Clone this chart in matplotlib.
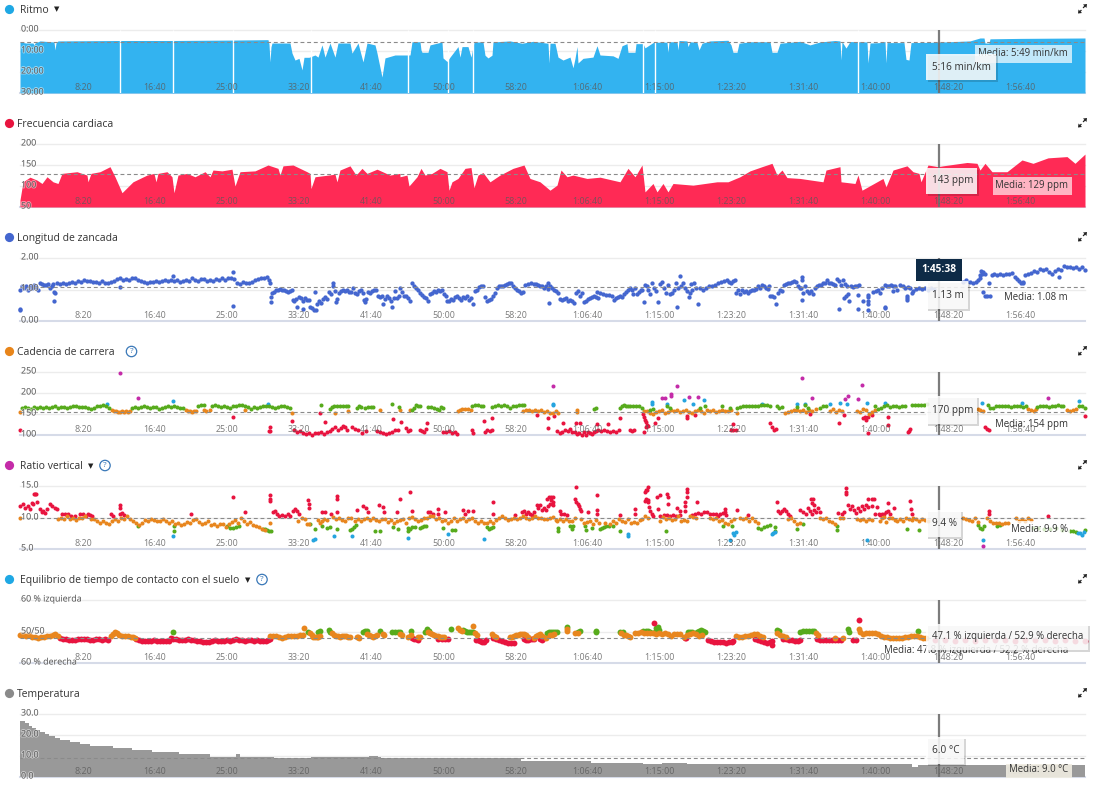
import matplotlib
matplotlib.use("Agg")
import matplotlib.pyplot as plt
import matplotlib.patheffects as pe
from matplotlib.patches import Circle, Polygon, Rectangle

plt.rcParams["font.family"] = ["Open Sans", "DejaVu Sans"]

# the activity is indexed by sample, one sample every 6.897 s
SAMPLE_SECONDS = 6.897
CURSOR_SECONDS = 6338
N_SAMPLES = 1065

time_labels = ["8:20", "16:40", "25:00", "33:20", "41:40", "50:00", "58:20", "1:06:40",
               "1:15:00", "1:23:20", "1:31:40", "1:40:00", "1:48:20", "1:56:40"]

# pace in min/km (decimal)
pace_points = [
    (0, 5.7), (6, 6.2), (13, 6.2), (14, 7.1), (15, 6.2), (20, 5.2), (34, 5.7), (35, 9.5), (36, 6.2),
    (38, 5.2), (99, 5.0), (152, 5.0), (212, 4.8), (248, 4.6), (249, 6.7), (250, 15.2), (251, 8.0),
    (252, 6.2), (270, 6.2), (272, 11.0), (275, 14.3), (279, 13.5), (282, 19.0), (284, 13.0),
    (289, 13.0), (295, 11.9), (298, 12.9), (302, 7.1), (305, 12.9), (310, 6.2), (315, 12.9),
    (318, 6.2), (330, 6.2), (332, 11.0), (338, 6.2), (343, 15.2), (347, 6.2), (355, 7.1), (357, 11.0),
    (362, 22.4), (365, 13.3), (375, 11.9), (380, 11.9), (390, 11.9), (392, 5.6), (400, 5.6),
    (401, 9.5), (402, 10.6), (408, 10.6), (410, 7.1), (422, 5.7), (423, 13.3), (427, 15.0),
    (430, 12.9), (438, 7.9), (440, 12.9), (442, 7.9), (448, 7.9), (451, 12.9), (454, 5.7), (463, 5.7),
    (465, 12.0), (468, 13.3), (472, 12.0), (473, 5.7), (490, 5.2), (502, 6.3), (513, 5.4), (528, 6.3),
    (529, 15.7), (530, 6.3), (535, 6.3), (538, 12.9), (543, 14.3), (550, 12.9), (553, 18.0), (555, 13.5),
    (557, 7.9), (558, 15.7), (563, 13.5), (573, 12.9), (577, 7.5), (580, 11.9), (593, 12.3), (598, 13.5),
    (602, 7.5), (607, 6.5), (608, 10.6), (615, 10.6), (616, 6.5), (623, 6.5), (625, 8.5), (633, 6.0),
    (637, 5.8), (647, 5.8), (648, 10.6), (649, 5.6), (657, 5.6), (658, 9.5), (659, 5.0), (667, 5.2),
    (668, 7.9), (670, 5.6), (677, 5.9), (679, 9.5), (682, 6.3), (690, 5.2), (708, 4.9), (711, 7.1),
    (713, 10.6), (717, 10.6), (719, 6.3), (730, 5.6), (750, 5.6), (752, 10.6), (757, 10.6), (760, 6.3),
    (780, 5.4), (790, 7.1), (800, 5.7), (815, 5.0), (820, 5.2), (821, 14.3), (822, 5.5), (826, 8.6),
    (830, 5.5), (847, 5.7), (848, 15.7), (850, 6.2), (860, 6.0), (865, 5.5), (866, 15.7), (867, 6.0),
    (884, 6.0), (886, 14.0), (889, 14.3), (891, 6.0), (918, 5.8), (950, 5.2), (960, 3.8), (964, 3.8),
    (965, 6.2), (969, 6.2), (970, 4.2), (1000, 4.0), (1065, 3.8),
]
pace_gaps = [100, 153, 213, 291, 388, 428, 453, 623, 635, 838]

# heart rate in bpm
heart_rate_points = [
    (0, 67), (3, 110), (10, 121), (17, 114), (22, 106), (27, 122), (33, 110), (38, 106), (42, 130),
    (57, 134), (67, 126), (68, 110), (71, 130), (80, 134), (90, 146), (95, 122), (102, 84), (113, 110),
    (127, 126), (134, 130), (136, 110), (138, 130), (147, 134), (152, 122), (154, 84), (158, 126),
    (167, 130), (175, 122), (185, 134), (190, 122), (193, 138), (202, 136), (212, 140), (215, 100),
    (220, 134), (235, 136), (248, 150), (258, 142), (260, 126), (263, 148), (273, 150), (287, 134),
    (290, 130), (291, 94), (295, 122), (315, 128), (317, 110), (320, 138), (330, 148), (336, 126),
    (342, 142), (347, 130), (357, 140), (370, 126), (380, 130), (380, 122), (387, 126), (389, 100),
    (397, 122), (401, 142), (405, 126), (412, 130), (420, 142), (427, 134), (429, 90), (432, 110),
    (438, 118), (445, 142), (451, 144), (454, 96), (458, 126), (463, 132), (470, 110), (480, 126),
    (493, 142), (504, 150), (510, 118), (520, 110), (530, 90), (537, 102), (541, 138), (547, 122),
    (553, 126), (567, 118), (580, 121), (600, 110), (608, 142), (615, 122), (622, 150), (625, 86),
    (633, 106), (637, 86), (643, 106), (648, 86), (653, 106), (673, 102), (697, 110), (708, 110),
    (720, 122), (730, 136), (742, 146), (752, 154), (757, 126), (762, 138), (767, 120), (780, 118),
    (803, 110), (806, 138), (820, 146), (821, 110), (835, 106), (838, 126), (842, 90), (863, 118),
    (866, 98), (873, 138), (887, 148), (893, 134), (899, 130), (901, 110), (908, 150), (918, 146),
    (923, 148), (947, 156), (957, 154), (960, 138), (965, 154), (972, 134), (987, 134), (1002, 162),
    (1013, 154), (1028, 167), (1047, 170), (1055, 154), (1065, 176),
]

stride_points = [
    (0, 1.0), (0, 0.34), (0, 0.39), (2, 1.1), (4, 1.05), (6, 1.12), (8, 1.0), (10, 1.1), (12, 1.05),
    (14, 1.15), (16, 1.08), (18, 0.98), (20, 1.2), (22, 1.17), (24, 1.15), (26, 1.13), (28, 1.16),
    (30, 1.05), (32, 1.1), (33, 1.18), (34, 0.92), (34, 0.65), (35, 0.88),
    (37, 1.2), (40, 1.16), (43, 1.2), (46, 1.17), (49, 1.22), (52, 1.25), (55, 1.22), (58, 1.28),
    (61, 1.24), (64, 1.3), (67, 1.28), (70, 1.26), (73, 1.24), (76, 1.25), (79, 1.2), (82, 1.28),
    (85, 1.22), (88, 1.2), (91, 1.24), (94, 1.28), (97, 1.34), (100, 1.37), (100, 1.08), (103, 1.3),
    (106, 1.33), (109, 1.3), (112, 1.36), (115, 1.37), (118, 1.3), (121, 1.27), (124, 1.25), (127, 1.2),
    (130, 1.24), (133, 1.25), (136, 1.27), (139, 1.25), (142, 1.28), (145, 1.3), (148, 1.28), (151, 1.3),
    (153, 1.42), (154, 1.28), (157, 1.3), (160, 1.25), (163, 1.27), (166, 1.3), (169, 1.28), (172, 1.36),
    (175, 1.3), (178, 1.28), (181, 1.34), (184, 1.33), (187, 1.28), (190, 1.3), (193, 1.28), (196, 1.32),
    (199, 1.3), (202, 1.35), (205, 1.3), (208, 1.36), (211, 1.37), (213, 1.57), (213, 0.48), (214, 1.32),
    (217, 1.2), (220, 1.18), (223, 1.24), (226, 1.2), (229, 1.22), (232, 1.25), (235, 1.3), (238, 1.33),
    (241, 1.37), (244, 1.38), (247, 1.4),
    (249, 1.3), (250, 1.2), (251, 0.77), (251, 0.6), (252, 0.88), (254, 0.93), (256, 0.98), (258, 1.0),
    (260, 1.03), (262, 1.0), (264, 0.98), (266, 0.96), (268, 0.93), (270, 0.95), (272, 1.0), (273, 0.67),
    (274, 0.62), (276, 0.7), (277, 0.43), (279, 0.76), (281, 0.72), (283, 0.37), (283, 0.65), (285, 0.73),
    (287, 0.68), (289, 0.66), (290, 0.45), (292, 0.42), (294, 0.35), (295, 0.93), (296, 0.35), (297, 0.55),
    (299, 0.65), (301, 0.58), (303, 0.7), (305, 0.76), (307, 0.7), (309, 0.93), (311, 0.85), (313, 1.2),
    (313, 1.1), (315, 0.95), (316, 0.6), (317, 0.7), (319, 0.88), (321, 0.96), (323, 0.98), (325, 0.95),
    (327, 0.97), (329, 0.92), (331, 0.93), (333, 1.05), (335, 0.9), (337, 0.85), (339, 0.95), (341, 0.98),
    (343, 0.88), (344, 0.68), (345, 0.6), (346, 0.7), (348, 0.92), (350, 0.88), (352, 0.95), (354, 1.0),
    (356, 0.98), (358, 0.8), (360, 0.75), (362, 0.78), (363, 0.55), (365, 0.7), (367, 0.78), (369, 0.72),
    (371, 0.65), (372, 0.45), (374, 0.72), (375, 0.95), (377, 0.73), (379, 0.78),
    (380, 1.05), (382, 0.93), (384, 0.78), (386, 0.8), (388, 0.72), (390, 0.62), (392, 1.2), (394, 1.12),
    (396, 1.05), (398, 0.98), (400, 0.9), (402, 0.82), (404, 0.75), (406, 0.72), (408, 0.62), (410, 0.85),
    (412, 0.9), (414, 0.95), (416, 0.92), (418, 1.0), (420, 0.95), (422, 0.97), (424, 0.85), (426, 0.8),
    (427, 0.62), (429, 0.65), (431, 0.7), (433, 0.68), (435, 0.75), (437, 0.8), (439, 0.72), (441, 0.68),
    (443, 0.75), (445, 0.72), (447, 0.78), (449, 0.68), (451, 0.73), (453, 0.55), (455, 0.95), (457, 1.0),
    (459, 1.08), (461, 1.1), (463, 1.1), (465, 0.75), (467, 0.65), (469, 0.66), (471, 0.7), (473, 0.78),
    (475, 0.9), (477, 1.05), (479, 1.1), (481, 1.12), (483, 1.1), (485, 1.15), (487, 1.18), (489, 1.22),
    (491, 1.2), (493, 1.1), (495, 1.05), (497, 0.98), (499, 0.95), (501, 0.9), (503, 0.92), (505, 1.15),
    (508, 1.18), (511, 1.2), (514, 1.16), (516, 1.16), (518, 1.15), (520, 1.1), (522, 1.12), (524, 1.05),
    (526, 1.1), (528, 1.02), (528, 1.2), (529, 0.58), (530, 1.1), (532, 1.05), (534, 0.98), (536, 0.95),
    (538, 0.88), (540, 0.7), (542, 0.66), (544, 0.7), (546, 0.72), (548, 0.62), (550, 0.68), (552, 0.62),
    (554, 0.58), (556, 0.9), (558, 0.95), (560, 0.78), (562, 0.9), (564, 0.6), (566, 0.62), (568, 0.7),
    (570, 0.72), (572, 0.75), (574, 0.8), (576, 0.75), (577, 0.93), (578, 0.72), (580, 0.88), (583, 0.85),
    (586, 0.82), (589, 0.82), (592, 0.8), (594, 0.68), (596, 0.72), (598, 0.75), (600, 0.8), (602, 0.75),
    (604, 0.85), (606, 0.92), (608, 0.97), (610, 1.05), (612, 0.98), (613, 0.85), (615, 1.05), (617, 0.85),
    (619, 0.93), (621, 1.0), (622, 0.98), (624, 0.6), (625, 1.15), (627, 1.1), (628, 0.98), (630, 0.85),
    (632, 1.2), (634, 1.05), (636, 0.95), (638, 0.6), (640, 1.18), (642, 1.25), (644, 1.05), (646, 0.9),
    (648, 1.15), (650, 0.85), (652, 0.9), (654, 0.98), (656, 1.22), (657, 0.44), (658, 1.05), (660, 1.44),
    (661, 1.1), (663, 1.2), (665, 1.05), (667, 0.95), (669, 0.75), (670, 0.88), (671, 1.18), (672, 0.98),
    (674, 1.2), (676, 1.05), (678, 0.54), (680, 1.05), (683, 0.98), (686, 1.05), (689, 1.1), (692, 1.12),
    (695, 1.15), (698, 1.2), (701, 1.25), (704, 1.28), (707, 1.3), (709, 1.25), (711, 1.22), (713, 1.28),
    (715, 1.3), (716, 0.9), (718, 1.0), (720, 0.85), (722, 0.98), (724, 0.92), (726, 0.95), (728, 0.9),
    (730, 0.95), (732, 1.0), (734, 0.97), (736, 1.02), (738, 1.12), (740, 1.05), (742, 1.15), (744, 1.1),
    (746, 1.05), (748, 1.02), (749, 1.12), (750, 0.78), (752, 0.8), (754, 0.75), (756, 0.55), (758, 0.9),
    (760, 1.0), (762, 0.95), (764, 1.15), (766, 1.18), (768, 1.2), (770, 1.2), (772, 1.25), (774, 1.28),
    (776, 1.25), (778, 1.1), (780, 1.05), (781, 1.05), (782, 1.4), (782, 1.3), (782, 0.67), (783, 0.9),
    (785, 1.1), (787, 0.95), (789, 0.9), (791, 0.95), (793, 0.85), (795, 1.05), (797, 1.1), (799, 1.15),
    (801, 1.15), (803, 1.2), (805, 1.22), (807, 1.3), (809, 1.22), (811, 1.2), (813, 1.18), (815, 1.15),
    (817, 1.32), (819, 1.28), (819, 0.37), (821, 1.15), (823, 1.3), (824, 0.72), (825, 1.18), (826, 0.78),
    (827, 1.1), (828, 0.85), (829, 0.65), (831, 1.1), (833, 1.08), (835, 1.1), (837, 1.12), (838, 0.83),
    (838, 0.37), (839, 1.15), (843, 0.65), (848, 0.83), (848, 0.75), (848, 0.65), (848, 0.53), (848, 0.35),
    (853, 0.92), (856, 0.95), (858, 0.98), (860, 0.9), (862, 1.05), (865, 1.15), (865, 0.45), (865, 0.4),
    (867, 1.1), (869, 1.1), (871, 1.15), (873, 1.1), (873, 0.95), (875, 1.12), (877, 1.0), (880, 1.13),
    (883, 1.1), (885, 1.05), (887, 0.67), (887, 0.72), (887, 0.8), (888, 1.07), (890, 1.05), (892, 0.9),
    (893, 0.95), (896, 1.02), (899, 1.05), (902, 1.03), (905, 1.05), (908, 1.0), (911, 1.05), (914, 1.02),
    (943, 1.25), (946, 1.3), (950, 1.25), (953, 1.22), (956, 1.25), (958, 1.3), (960, 1.45), (961, 1.6),
    (960, 1.37), (962, 1.5), (963, 1.55), (963, 0.93), (965, 1.48), (965, 0.8), (967, 0.8), (969, 1.2),
    (970, 0.8), (972, 1.45), (974, 1.5), (977, 1.47), (980, 1.5), (983, 1.46), (986, 1.48), (989, 1.5),
    (992, 1.53), (995, 1.4), (997, 1.32), (999, 1.28), (1001, 1.22), (1003, 1.25), (1003, 1.2), (1005, 1.45),
    (1008, 1.5), (1011, 1.52), (1014, 1.6), (1017, 1.55), (1020, 1.66), (1023, 1.62), (1026, 1.65),
    (1029, 1.55), (1032, 1.5), (1035, 1.6), (1038, 1.65), (1039, 1.4), (1041, 1.62), (1044, 1.75), (1047, 1.7),
    (1050, 1.72), (1053, 1.68), (1056, 1.72), (1059, 1.66), (1062, 1.72), (1065, 1.62),
]

# running dynamics are coloured by zone
cadence_green = [
    (2, 164), (5, 166), (8, 165), (11, 163), (14, 166), (17, 165), (20, 167), (23, 165), (26, 167), (29, 164),
    (32, 166), (35, 168), (38, 165), (41, 167), (44, 166), (47, 164), (50, 166), (53, 170), (56, 168), (59, 167),
    (62, 166), (65, 166), (68, 164), (71, 162), (74, 165), (77, 168), (80, 170), (83, 171), (86, 168), (89, 165),
    (112, 164), (115, 166), (118, 165), (121, 167), (124, 168), (127, 166), (130, 165), (133, 167), (136, 166),
    (139, 163), (142, 165), (145, 166), (148, 169), (151, 167), (154, 170), (157, 167), (160, 165), (163, 164),
    (178, 168), (181, 171), (184, 172), (192, 170), (195, 171), (198, 168), (201, 166), (204, 170), (207, 167),
    (210, 164), (213, 169), (216, 168), (219, 171), (222, 172), (225, 170), (228, 167), (231, 163), (234, 166),
    (237, 164), (240, 167), (243, 170), (246, 168), (249, 170), (252, 167), (255, 165), (258, 167), (261, 168),
    (264, 168), (267, 167), (270, 165), (301, 172), (310, 162), (312, 166), (314, 168), (317, 168), (320, 169),
    (323, 168), (326, 170), (328, 168), (337, 165), (339, 168), (341, 166), (345, 165), (348, 166), (351, 167),
    (353, 167), (372, 173), (379, 166), (392, 160), (394, 165), (396, 172), (398, 169), (400, 168), (408, 166),
    (411, 166), (414, 165), (417, 163), (419, 160), (421, 167), (423, 164), (452, 170), (455, 172), (458, 171),
    (461, 169), (463, 168), (472, 167), (475, 169), (478, 171), (481, 168), (484, 172), (487, 170), (490, 165),
    (493, 168), (496, 170), (499, 171), (502, 172), (504, 172), (574, 163), (576, 165), (600, 165), (602, 170),
    (604, 172), (606, 170), (608, 170), (610, 168), (613, 168), (616, 169), (619, 168), (622, 165), (630, 160),
    (633, 163), (647, 170), (650, 165), (680, 165), (685, 168), (702, 170), (710, 165), (717, 165), (720, 167),
    (723, 169), (726, 168), (729, 170), (732, 168), (735, 169), (738, 170), (741, 171), (744, 172), (747, 171),
    (750, 170), (757, 168), (759, 165), (762, 167), (777, 167), (785, 172), (788, 164), (800, 165), (803, 168),
    (806, 170), (855, 168), (858, 163), (861, 165), (864, 168), (867, 171), (870, 167), (873, 168), (876, 170),
    (879, 167), (882, 170), (885, 170), (892, 171), (895, 171), (898, 172), (901, 171), (904, 172), (907, 173),
    (968, 172), (970, 165), (973, 165), (976, 168), (979, 169), (982, 168), (985, 169), (988, 170), (991, 167),
    (994, 168), (997, 170), (1000, 169), (1003, 167), (1006, 168), (1017, 166), (1020, 168), (1023, 169),
    (1026, 168), (1029, 166), (1032, 168), (1035, 170), (1038, 171), (1041, 168), (1043, 169), (1059, 170),
    (1062, 168), (1065, 165),
]
cadence_orange = [
    (0, 155), (92, 160), (94, 157), (96, 156), (98, 155), (100, 155), (102, 156), (104, 155), (106, 157),
    (108, 155), (110, 156), (166, 160), (168, 157), (170, 156), (172, 155), (174, 157), (176, 157), (184, 160),
    (186, 158), (190, 160), (225, 159), (272, 153), (315, 153), (328, 156), (360, 160), (380, 160), (390, 160),
    (438, 158), (440, 160), (442, 162), (445, 163), (448, 163), (451, 160), (503, 158), (506, 160), (509, 160),
    (512, 157), (515, 159), (518, 156), (521, 160), (524, 155), (527, 157), (530, 153), (533, 153), (536, 158),
    (538, 152), (557, 160), (557, 155), (624, 158), (627, 157), (630, 153), (633, 150), (636, 155), (639, 158),
    (642, 160), (645, 152), (648, 155), (651, 160), (654, 157), (657, 160), (660, 155), (663, 158), (666, 160),
    (669, 155), (672, 153), (675, 158), (678, 160), (681, 158), (684, 153), (687, 160), (690, 158), (693, 160),
    (696, 155), (699, 157), (702, 160), (705, 158), (708, 157), (711, 160), (717, 152), (765, 152), (768, 155),
    (771, 158), (774, 160), (777, 160), (780, 157), (783, 160), (786, 155), (789, 160), (792, 157), (796, 163),
    (810, 157), (813, 162), (816, 155), (819, 160), (822, 158), (837, 158), (840, 155), (843, 162), (846, 160),
    (849, 150), (852, 155), (855, 160), (958, 162), (960, 160), (963, 156), (1008, 162), (1011, 159), (1014, 158),
    (1016, 162), (1047, 160), (1050, 158), (1053, 160), (1056, 161),
]
cadence_red = [
    (0, 112), (213, 142), (250, 120), (250, 110), (249, 110), (272, 133), (274, 112), (277, 106), (280, 110),
    (283, 104), (286, 102), (289, 104), (292, 100), (295, 104), (298, 105), (300, 152), (301, 108), (304, 103),
    (305, 132), (307, 108), (310, 110), (312, 115), (315, 118), (318, 112), (321, 116), (323, 121), (325, 118),
    (327, 112), (332, 118), (335, 115), (338, 112), (342, 104), (346, 110), (357, 110), (360, 108), (363, 104),
    (366, 102), (369, 104), (372, 108), (373, 138), (375, 112), (378, 112), (381, 132), (386, 116), (388, 110),
    (390, 112), (400, 112), (402, 110), (404, 108), (406, 115), (407, 128), (423, 108), (426, 106), (429, 110),
    (432, 105), (435, 108), (437, 102), (452, 112), (453, 104), (464, 133), (465, 108), (467, 112), (470, 110),
    (472, 112), (472, 141), (517, 147), (528, 140), (528, 116), (534, 145), (537, 110), (540, 104), (542, 108),
    (543, 128), (545, 112), (548, 110), (550, 114), (552, 106), (555, 108), (556, 128), (557, 102), (559, 105),
    (560, 128), (562, 101), (564, 108), (566, 100), (568, 106), (570, 105), (572, 102), (574, 108), (576, 110),
    (577, 126), (578, 112), (581, 110), (584, 112), (587, 110), (588, 126), (590, 108), (593, 110), (596, 108),
    (599, 112), (600, 141), (610, 112), (612, 110), (614, 112), (623, 150), (624, 142), (624, 108), (625, 135),
    (626, 130), (626, 118), (627, 125), (628, 122), (635, 128), (638, 140), (667, 145), (667, 141), (675, 148),
    (711, 112), (713, 126), (713, 113), (716, 112), (750, 128), (752, 118), (754, 112), (756, 114), (790, 150),
    (819, 128), (824, 148), (843, 140), (845, 144), (846, 136), (848, 142), (848, 104), (852, 148), (868, 144),
    (868, 124), (888, 108), (889, 110), (890, 115), (965, 120), (967, 115), (969, 112), (1065, 146),
]
cadence_purple = [
    (100, 247), (118, 189), (533, 216), (642, 189), (645, 189), (651, 194), (651, 197), (657, 216), (669, 191),
    (678, 190), (782, 235), (792, 189), (825, 185), (828, 193), (838, 186), (842, 219), (1028, 187),
]
cadence_blue = [
    (87, 173), (153, 181), (248, 175), (533, 175), (533, 171), (632, 179), (632, 175), (647, 175), (664, 183),
    (673, 173), (684, 183), (742, 174), (777, 173), (785, 174), (810, 173), (820, 177), (827, 173), (847, 177),
    (865, 177), (962, 177), (1002, 177), (1059, 182),
]

ratio_red = [
    (0, 11.8), (3, 12.1), (5, 11.5), (8, 11.8), (10, 11.3), (12, 12.3), (13, 12.2), (14, 13.8), (15, 13.8),
    (16, 13.8), (17, 12.4), (20, 11.3), (22, 10.8), (23, 11.0), (25, 10.7), (27, 11.3), (30, 12.1), (32, 11.8),
    (35, 11.5), (37, 11.3), (42, 10.6), (45, 10.5), (48, 10.5), (51, 10.3), (55, 10.3), (60, 10.5), (63, 10.6),
    (66, 10.3), (68, 10.6), (70, 10.4), (72, 10.3), (91, 10.6), (93, 10.3), (100, 10.5), (102, 10.7), (104, 10.4),
    (100, 11.5), (100, 12.0), (171, 10.6), (213, 13.2), (225, 10.8), (250, 13.0), (250, 13.5), (250, 12.6),
    (253, 10.8), (255, 11.0), (257, 10.5), (259, 10.2), (262, 10.4), (265, 10.3), (268, 10.6), (270, 10.3),
    (273, 11.0), (275, 11.3), (277, 11.1), (279, 10.5), (288, 12.7), (289, 12.1), (289, 11.5), (302, 10.8),
    (305, 10.8), (311, 10.5), (317, 13.4), (317, 12.9), (317, 10.8), (337, 11.2), (343, 11.8), (346, 11.5),
    (348, 10.9), (359, 12.0), (363, 11.6), (364, 10.9), (377, 10.8), (380, 12.9), (390, 14.0), (392, 11.0),
    (408, 10.8), (410, 10.8), (413, 10.5), (418, 11.3), (418, 10.6), (425, 10.9), (443, 11.2), (445, 10.5),
    (448, 11.0), (453, 11.1), (473, 12.5), (473, 10.6), (495, 10.4), (502, 10.8), (504, 11.0), (506, 10.5),
    (508, 10.9), (510, 10.6), (512, 10.4), (514, 10.8), (517, 12.0), (518, 11.5), (520, 12.0), (522, 11.2),
    (524, 11.5), (526, 11.2), (527, 13.0), (528, 11.8), (529, 13.2), (530, 12.2), (531, 13.3), (531, 12.8),
    (533, 13.2), (533, 12.4), (533, 12.0), (540, 11.0), (541, 10.5), (544, 10.5), (547, 10.4), (555, 13.0),
    (556, 14.8), (556, 12.5), (558, 12.2), (559, 11.8), (560, 11.4), (561, 11.0), (568, 10.8), (577, 13.6),
    (577, 11.2), (577, 10.6), (600, 10.4), (615, 11.3), (615, 10.5), (625, 14.1), (625, 12.6), (626, 14.3),
    (626, 13.0), (627, 14.4), (628, 14.8), (628, 12.8), (628, 12.4), (629, 11.6), (630, 11.0), (632, 10.5),
    (633, 10.3), (637, 13.3), (638, 11.3), (640, 13.6), (640, 10.3), (644, 10.4), (647, 13.7), (647, 10.4),
    (648, 13.2), (648, 12.1), (650, 10.3), (653, 10.4), (656, 10.3), (657, 11.5), (660, 11.0), (660, 10.4),
    (665, 12.4), (665, 11.9), (665, 11.0), (667, 14.5), (667, 14.0), (667, 13.2), (672, 10.4), (675, 10.5),
    (677, 12.4), (678, 10.7), (681, 10.6), (684, 10.9), (687, 10.8), (690, 10.5), (693, 10.6), (696, 10.5),
    (698, 10.3), (700, 10.6), (703, 10.7), (705, 11.3), (705, 10.9), (706, 10.4), (717, 11.2), (728, 10.4),
    (757, 12.4), (758, 11.1), (760, 10.7), (762, 11.0), (764, 11.3), (766, 11.0), (768, 10.6), (770, 10.3),
    (780, 11.2), (783, 10.9), (786, 10.5), (788, 11.5), (790, 11.0), (791, 13.0), (792, 10.5), (792, 12.3),
    (793, 13.0), (794, 11.2), (794, 12.0), (796, 10.9), (798, 11.5), (800, 10.8), (818, 10.7), (822, 10.6),
    (824, 10.9), (826, 14.7), (826, 14.1), (826, 13.7), (828, 12.0), (830, 11.4), (832, 11.8), (834, 11.2),
    (836, 10.7), (838, 11.5), (840, 11.0), (842, 11.9), (844, 11.3), (846, 12.0), (848, 11.6), (848, 12.9),
    (852, 12.9), (852, 11.8), (854, 13.0), (855, 10.5), (857, 11.7), (859, 10.5), (860, 10.4), (862, 10.6),
    (864, 10.5), (866, 10.8), (868, 11.0), (868, 12.3), (870, 10.5), (874, 11.5), (890, 12.6), (891, 11.3),
    (892, 10.5), (969, 11.1), (969, 10.5), (1028, 10.2),
]
ratio_orange = [
    (0, 9.9), (38, 9.8), (41, 10.0), (44, 9.7), (47, 10.2), (50, 9.8), (53, 10.0), (56, 9.6), (59, 9.9), (62, 10.0),
    (65, 10.3), (71, 9.7), (74, 9.8), (77, 9.5), (80, 9.2), (83, 9.4), (86, 9.1), (89, 9.0), (92, 9.5), (95, 9.8),
    (98, 9.4), (101, 10.0), (104, 9.7), (107, 10.3), (110, 9.8), (113, 9.5), (116, 9.2), (119, 8.8), (122, 9.2),
    (125, 9.6), (128, 9.4), (131, 9.8), (134, 9.6), (137, 9.5), (140, 9.4), (143, 9.7), (146, 9.5), (149, 9.2),
    (152, 9.4), (155, 8.9), (158, 9.1), (161, 8.8), (164, 9.0), (167, 9.3), (170, 9.2), (173, 9.6), (176, 9.8),
    (179, 9.3), (182, 8.9), (185, 9.2), (188, 9.5), (191, 8.8), (194, 9.0), (197, 8.6), (200, 8.9), (203, 9.0),
    (206, 8.5), (209, 8.9), (212, 9.3), (215, 9.6), (218, 9.2), (221, 9.9), (224, 9.5), (227, 9.0), (230, 9.3),
    (233, 8.8), (236, 8.6), (239, 8.5), (242, 8.2), (245, 8.0), (250, 9.1), (278, 9.4), (282, 9.9), (285, 9.8),
    (287, 8.9), (289, 9.0), (298, 9.6), (300, 9.1), (302, 9.4), (304, 9.8), (307, 9.6), (313, 10.1), (316, 9.8),
    (319, 10.0), (322, 9.6), (325, 9.5), (328, 9.9), (331, 10.0), (335, 9.4), (338, 9.7), (341, 9.4), (344, 9.8),
    (347, 9.9), (350, 9.6), (353, 9.9), (356, 9.6), (359, 9.4), (362, 9.7), (365, 9.8), (368, 9.3), (371, 9.6),
    (374, 9.2), (377, 9.5), (380, 9.6), (383, 9.7), (386, 9.2), (389, 9.9), (392, 10.1), (395, 9.7), (398, 9.5),
    (401, 9.6), (404, 10.0), (407, 9.9), (410, 10.2), (413, 10.3), (416, 9.8), (419, 10.0), (422, 9.5), (425, 9.6),
    (428, 9.2), (431, 9.5), (434, 9.9), (437, 9.4), (440, 9.7), (443, 9.9), (446, 9.4), (449, 9.7), (452, 9.9),
    (455, 9.5), (458, 9.2), (461, 9.5), (464, 9.2), (467, 9.1), (470, 9.4), (473, 9.2), (476, 9.6), (479, 10.0),
    (482, 10.2), (485, 9.9), (488, 9.6), (491, 9.8), (494, 10.0), (497, 9.7), (500, 10.0), (503, 10.3), (506, 10.0),
    (509, 9.8), (512, 10.0), (515, 10.2), (518, 9.9), (521, 10.0), (524, 9.8), (527, 9.7), (530, 9.9), (533, 10.1),
    (536, 9.6), (537, 9.5), (540, 9.7), (543, 9.5), (546, 9.7), (549, 9.4), (552, 9.5), (555, 9.9), (561, 9.8),
    (564, 9.1), (567, 9.3), (570, 9.4), (573, 9.0), (576, 9.6), (579, 9.2), (585, 9.1), (590, 9.0), (593, 9.5),
    (596, 9.2), (599, 9.7), (602, 9.5), (605, 9.3), (608, 9.7), (611, 9.2), (614, 9.3), (617, 9.1), (620, 9.6),
    (622, 9.8), (625, 10.2), (628, 10.0), (640, 9.5), (643, 10.1), (646, 9.8), (649, 9.9), (652, 9.6), (655, 9.7),
    (658, 10.2), (661, 9.4), (664, 9.6), (667, 9.4), (670, 10.2), (673, 10.1), (676, 10.0), (690, 9.9), (693, 9.7),
    (696, 10.0), (699, 9.4), (702, 9.6), (705, 9.2), (708, 9.0), (711, 9.4), (714, 9.8), (720, 10.0), (723, 9.7),
    (726, 9.9), (729, 9.5), (732, 9.9), (735, 9.5), (738, 9.2), (768, 9.7), (771, 9.9), (774, 9.5), (777, 9.0),
    (780, 9.1), (800, 9.9), (803, 9.7), (806, 10.0), (809, 9.4), (812, 9.3), (815, 9.0), (820, 10.0), (823, 9.9),
    (837, 9.8), (840, 9.6), (843, 9.7), (846, 9.5), (849, 9.7), (852, 9.6), (860, 9.4), (862, 9.9), (864, 10.1),
    (866, 9.3), (869, 9.9), (872, 9.9), (875, 9.6), (877, 9.4), (880, 9.7), (883, 9.4), (886, 9.9), (889, 9.8),
    (892, 9.6), (893, 9.9), (896, 9.7), (899, 9.5), (902, 9.8), (905, 9.6), (908, 9.4), (943, 10.0), (946, 9.7),
    (949, 9.6), (952, 9.5), (955, 9.9), (958, 9.3), (967, 10.0), (970, 9.5), (973, 9.2), (976, 9.1), (979, 9.1),
    (982, 8.9), (985, 9.1), (988, 9.2), (996, 9.9), (999, 9.5), (1002, 9.7), (1005, 9.4), (1008, 9.9), (1011, 9.6),
]
ratio_green = [
    (118, 8.7), (154, 7.8), (154, 8.6), (207, 8.6), (210, 8.3), (213, 8.4), (216, 8.5), (219, 8.6), (243, 8.2),
    (245, 8.1), (247, 8.0), (249, 7.9), (251, 7.8), (290, 8.9), (295, 8.1), (302, 8.6), (307, 8.4), (310, 8.5),
    (317, 8.1), (330, 8.0), (332, 8.2), (334, 8.5), (336, 8.8), (355, 7.9), (360, 7.9), (373, 8.5), (378, 8.1),
    (388, 8.4), (388, 7.9), (390, 8.2), (392, 8.5), (395, 8.5), (400, 8.3), (402, 8.5), (404, 8.7), (406, 8.7),
    (423, 8.4), (432, 8.0), (435, 8.0), (467, 8.5), (469, 8.1), (471, 8.4), (473, 8.5), (538, 8.4), (538, 7.9),
    (550, 8.6), (552, 8.2), (553, 8.6), (565, 8.6), (566, 8.0), (572, 8.4), (580, 8.2), (582, 8.3), (584, 8.5),
    (586, 8.6), (589, 8.7), (593, 8.6), (600, 7.8), (646, 7.8), (703, 8.7), (712, 8.7), (738, 8.3), (741, 8.2),
    (744, 8.5), (747, 8.6), (750, 8.8), (755, 8.5), (755, 7.9), (777, 8.2), (783, 8.9), (817, 8.7), (817, 8.0),
    (887, 8.2), (899, 8.0), (958, 8.8), (960, 8.4), (962, 8.2), (964, 8.7), (977, 8.7), (980, 8.8), (1013, 8.4),
    (1018, 8.3), (1024, 8.1), (1030, 8.2), (1036, 8.3), (1042, 8.0), (1050, 7.9), (1053, 7.8), (1056, 7.7), (1065, 8.0),
]
ratio_blue = [
    (153, 7.0), (293, 6.5), (295, 6.6), (314, 7.0), (332, 7.1), (388, 6.7), (428, 7.4), (464, 6.6), (608, 7.4),
    (608, 7.0), (710, 6.5), (713, 7.6), (714, 7.2), (716, 7.7), (752, 7.4), (753, 7.5), (755, 7.7), (847, 6.5),
    (963, 6.4), (1058, 7.6), (1060, 7.5), (1062, 7.3), (1064, 7.7),
]
ratio_purple = [(963, 5.4)]

# ground contact balance as % on the left foot
balance_orange = [
    (0, 49.0), (3, 48.8), (6, 48.6), (9, 49.0), (12, 48.4), (15, 48.3), (18, 48.0), (21, 48.3), (24, 48.2), (27, 48.5),
    (30, 48.6), (33, 48.8), (35, 49.2), (38, 48.7), (91, 48.6), (93, 49.2), (95, 49.8), (97, 49.6), (99, 49.0),
    (102, 48.6), (105, 48.5), (108, 48.6), (111, 48.4), (113, 48.3), (115, 48.0), (250, 48.7), (253, 48.5), (256, 48.5),
    (259, 48.3), (262, 48.0), (265, 48.4), (268, 48.5), (271, 48.7), (274, 48.6), (277, 48.5), (280, 48.9), (283, 49.0),
    (284, 51.2), (290, 49.6), (292, 49.0), (293, 48.4), (295, 48.1), (297, 48.2), (298, 48.4), (300, 48.7), (312, 49.5),
    (314, 49.0), (316, 48.6), (318, 48.5), (320, 48.4), (322, 48.5), (324, 48.7), (326, 48.5), (328, 48.4), (330, 48.2),
    (337, 48.4), (338, 48.2), (339, 48.0), (347, 49.3), (349, 49.0), (351, 48.7), (353, 48.3), (355, 48.5), (357, 48.9),
    (363, 49.2), (364, 49.0), (380, 49.3), (382, 49.0), (388, 48.3), (391, 48.9), (398, 48.1), (400, 48.3), (408, 50.0),
    (410, 49.6), (412, 49.2), (414, 49.0), (416, 48.6), (418, 48.5), (420, 48.4), (422, 48.1), (424, 48.4), (438, 51.2),
    (440, 50.6), (442, 50.2), (453, 51.8), (455, 49.4), (457, 48.9), (472, 49.2), (474, 48.7), (476, 48.3), (490, 48.1),
    (492, 48.4), (494, 48.5), (496, 48.9), (498, 49.0), (500, 49.1), (502, 49.3), (504, 49.3), (506, 49.0), (508, 48.4),
    (514, 48.0), (516, 48.5), (518, 48.9), (520, 49.1), (522, 48.5), (526, 48.0), (530, 48.9), (532, 49.0), (534, 49.2),
    (547, 50.8), (547, 50.2), (555, 49.5), (558, 49.6), (601, 49.4), (604, 49.0), (606, 48.8), (608, 48.6), (610, 48.3),
    (615, 49.6), (618, 49.5), (621, 49.7), (624, 49.4), (627, 49.6), (630, 49.5), (633, 49.5), (636, 49.3), (639, 49.6),
    (642, 49.2), (645, 49.4), (648, 49.2), (651, 48.6), (654, 49.1), (657, 49.3), (660, 49.1), (664, 48.3), (667, 49.0),
    (670, 49.2), (673, 49.4), (676, 49.1), (679, 48.7), (682, 48.8), (716, 48.5), (719, 48.4), (722, 48.4), (725, 48.7),
    (728, 48.6), (731, 48.8), (734, 49.1), (737, 49.1), (740, 48.6), (743, 48.3), (757, 49.5), (760, 49.0), (763, 48.6),
    (766, 48.3), (796, 49.6), (798, 48.9), (815, 48.0), (823, 48.0), (839, 50.7), (840, 49.8), (843, 49.3), (846, 49.5),
    (849, 49.4), (852, 49.5), (855, 49.6), (858, 49.2), (861, 48.6), (864, 48.1), (867, 48.1), (870, 47.9), (873, 48.0),
    (876, 47.8), (879, 48.0), (882, 48.0), (885, 48.2), (888, 48.4), (891, 48.6), (894, 48.7), (897, 48.5), (900, 48.4),
    (903, 48.0), (906, 47.9),
]
balance_red = [
    (40, 48.0), (43, 47.7), (46, 47.6), (49, 47.3), (52, 47.4), (55, 47.3), (58, 47.5), (61, 47.5), (64, 47.6), (67, 47.7),
    (70, 47.4), (73, 47.3), (76, 47.5), (79, 47.7), (82, 47.4), (85, 47.6), (88, 47.2), (116, 47.5), (119, 47.2), (122, 47.0),
    (125, 46.9), (128, 47.1), (131, 47.0), (134, 47.2), (137, 47.1), (140, 47.0), (143, 46.9), (146, 47.0), (149, 47.1),
    (151, 48.0), (153, 47.6), (156, 47.5), (159, 47.4), (162, 47.3), (165, 47.4), (168, 47.6), (171, 47.3), (174, 47.3),
    (177, 47.1), (180, 47.0), (183, 46.8), (186, 46.7), (189, 46.7), (192, 47.0), (195, 47.2), (198, 47.0), (201, 47.0),
    (204, 47.1), (207, 47.2), (210, 47.0), (213, 47.4), (216, 47.6), (219, 47.3), (222, 47.3), (225, 47.1), (228, 47.2),
    (231, 47.2), (234, 47.0), (237, 47.2), (240, 47.1), (243, 47.0), (246, 47.1), (248, 47.3), (250, 47.5), (392, 47.8),
    (394, 47.5), (396, 47.6), (398, 47.3), (418, 47.5), (422, 47.6), (425, 47.7), (428, 47.5), (456, 47.4), (458, 47.2),
    (460, 46.9), (462, 46.6), (464, 46.8), (466, 47.2), (473, 47.9), (476, 47.5), (479, 47.2), (482, 47.0), (485, 46.6),
    (488, 46.4), (491, 46.3), (494, 46.4), (504, 47.5), (506, 47.2), (508, 47.3), (510, 47.5), (512, 47.7), (514, 47.6),
    (520, 47.5), (522, 47.4), (524, 47.9), (634, 52.6), (665, 47.8), (666, 47.8), (688, 47.3), (691, 47.0), (694, 46.8),
    (697, 46.7), (700, 46.6), (703, 46.7), (706, 46.5), (709, 46.7), (712, 46.8), (713, 47.0), (735, 47.5), (738, 47.2),
    (741, 47.0), (744, 46.8), (747, 46.5), (750, 46.8), (752, 47.0), (752, 45.6), (763, 47.6), (766, 47.5), (769, 47.3),
    (772, 47.2), (775, 47.0), (778, 47.0), (780, 47.2), (797, 47.6), (800, 47.4), (803, 47.2), (806, 47.3), (809, 47.3),
    (812, 47.3), (815, 47.4), (818, 47.3), (821, 47.2), (833, 47.2), (836, 47.3), (839, 53.8), (915, 47.3), (925, 47.2),
    (935, 47.1), (945, 47.2), (955, 47.1), (965, 47.2), (975, 47.3), (985, 47.2), (995, 47.1), (1005, 47.2), (1015, 47.3),
    (1025, 47.2), (1035, 47.1), (1045, 47.2), (1055, 47.1), (1065, 46.9),
]
balance_green = [
    (153, 50.0), (288, 49.8), (298, 49.8), (300, 50.3), (309, 50.6), (310, 50.0), (343, 49.8), (345, 50.3), (347, 50.2),
    (360, 50.1), (372, 50.0), (375, 49.8), (378, 50.0), (380, 49.9), (391, 50.2), (405, 49.7), (407, 50.8), (409, 50.3),
    (431, 50.8), (443, 50.5), (445, 50.1), (447, 50.0), (449, 49.9), (451, 49.9), (453, 49.9), (527, 49.6), (529, 50.0),
    (531, 50.0), (533, 50.0), (535, 50.0), (537, 50.0), (547, 51.5), (558, 50.0), (560, 50.1), (576, 50.2), (576, 49.9),
    (600, 49.7), (603, 49.9), (623, 50.2), (626, 50.3), (628, 50.3), (630, 50.0), (635, 50.0), (636, 51.0), (638, 51.5),
    (639, 50.5), (668, 49.8), (670, 50.0), (672, 49.7), (677, 49.9), (679, 50.3), (681, 50.5), (683, 50.3), (685, 49.8),
    (757, 50.4), (759, 50.3), (780, 50.0), (783, 50.2), (786, 50.1), (789, 50.1), (792, 50.2), (794, 50.2), (828, 50.7),
    (829, 50.0), (898, 50.1),
]

# temperature steps, each value holds until the next sample listed
temperature_points = [
    (0, 26.5), (5, 25.5), (9, 24.5), (12, 23.5), (16, 22.5), (20, 21.5), (25, 20.5), (29, 19.5), (35, 18.5), (40, 17.6),
    (50, 16.5), (60, 15.7), (70, 14.8), (93, 13.6), (112, 12.8), (132, 11.7), (159, 10.8), (190, 9.7), (216, 10.8),
    (220, 9.7), (254, 8.9), (291, 9.7), (349, 10.2), (358, 9.7), (361, 8.9), (501, 7.8), (571, 6.8), (623, 6.0),
    (642, 6.8), (667, 6.0), (892, 5.0), (898, 5.7), (1065, 5.7),
]

mean_pace = 5.82
mean_heart_rate = 129
mean_stride = 1.08
mean_cadence = 154
mean_ratio = 9.9
mean_balance = 47.8

GREEN = "#57ab1c"
ORANGE = "#e8861e"
RED = "#e8143f"
BLUE = "#25a4df"
PURPLE = "#c42ba8"
GRID = "#ececec"
AXIS_LINE = "#d6dbe8"
LABEL = "#5a5a5a"

W, H = 1096, 786
fig = plt.figure(figsize=(W / 100, H / 100), dpi=100)


def make_axes(top, bottom, ylim):
    ax = fig.add_axes([20 / W, 1 - bottom / H, 1065 / W, (bottom - top) / H], zorder=1)
    ax.set_xlim(0, N_SAMPLES)
    ax.set_ylim(*ylim)
    ax.axis("off")
    return ax


def decorate(ax, ticks, mean):
    for tick in ticks[:-1]:
        ax.axhline(tick, color=GRID, lw=1, zorder=0.5, clip_on=False)
    ax.axhline(ticks[-1], color=AXIS_LINE, lw=1.5, zorder=0.5, clip_on=False)
    if mean is not None:
        ax.axhline(mean, color="#8a8a8a", lw=0.8, ls=(0, (3.5, 2.5)), zorder=3)
    ax.axvline(CURSOR_SECONDS / SAMPLE_SECONDS, color="#6e6e6e", lw=1.6, alpha=0.9, zorder=4)


def dots(ax, points, color, size):
    xs, ys = zip(*points)
    ax.scatter(xs, ys, s=size, color=color, linewidths=0, zorder=2, clip_on=False)


# pace panel, axis runs downwards so fast is up
ax_pace = make_axes(30, 93, (30, 0))
decorate(ax_pace, [0, 10, 20, 30], mean_pace)
xs, ys = zip(*pace_points)
ax_pace.fill_between(xs, ys, 30, color="#33b3f0", lw=0, zorder=1)
ax_pace.vlines(pace_gaps, 0, 30, color="white", lw=1, zorder=1.5)

ax_hr = make_axes(144, 207, (50, 200))
decorate(ax_hr, [200, 150, 100, 50], mean_heart_rate)
xs, ys = zip(*heart_rate_points)
ax_hr.fill_between(xs, ys, 50, color="#ff2a55", lw=0, zorder=1)

ax_stride = make_axes(258, 321, (0, 2))
decorate(ax_stride, [2, 1, 0], mean_stride)
dots(ax_stride, stride_points, "#4466cf", 9.5)

ax_cadence = make_axes(372, 435, (100, 250))
decorate(ax_cadence, [250, 200, 150, 100], mean_cadence)
for pts, col in [(cadence_red, RED), (cadence_purple, PURPLE), (cadence_blue, BLUE),
                 (cadence_orange, ORANGE), (cadence_green, GREEN)]:
    dots(ax_cadence, pts, col, 8.5)

ax_ratio = make_axes(486, 549, (5, 15))
decorate(ax_ratio, [15, 10, 5], mean_ratio)
for pts, col in [(ratio_green, GREEN), (ratio_blue, BLUE), (ratio_purple, PURPLE),
                 (ratio_red, RED), (ratio_orange, ORANGE)]:
    dots(ax_ratio, pts, col, 8.5)

ax_balance = make_axes(600, 663, (40, 60))
decorate(ax_balance, [60, 50, 40], mean_balance)
for pts, col in [(balance_green, GREEN), (balance_red, RED), (balance_orange, ORANGE)]:
    dots(ax_balance, pts, col, 18)

ax_temp = make_axes(714, 777, (0, 30))
decorate(ax_temp, [30, 20, 10, 0], 9.0)
xs, ys = zip(*temperature_points)
ax_temp.fill_between(xs, ys, 0, step="post", color="#999999", lw=0, zorder=1)

# everything below sits on a full-figure layer measured in pixels
over = fig.add_axes([0, 0, 1, 1], zorder=5)
over.set_xlim(0, W)
over.set_ylim(H, 0)
over.axis("off")

headers = [
    ("Ritmo", 20, 9, "#1fa8e4"),
    ("Frecuencia cardiaca", 17, 123, "#e8143f"),
    ("Longitud de zancada", 17, 237, "#4466cf"),
    ("Cadencia de carrera", 17, 351, "#e8851a"),
    ("Ratio vertical", 20, 465, "#c42ba8"),
    ("Equilibrio de tiempo de contacto con el suelo", 20, 579, "#1fa8e4"),
    ("Temperatura", 17, 693, "#8a8a8a"),
]
for label, x, y, col in headers:
    over.add_patch(Circle((9.5, y + 0.5), 4.6, color=col, lw=0))
    over.text(x, y + 1.5, label, fontsize=7.5, color="#333333", va="center", ha="left")
    # expand icon at the right edge, two arrows pointing apart
    over.add_patch(Polygon([(1087, y - 5), (1083, y - 4.5), (1086.5, y - 1)], color="#222222", lw=0))
    over.add_patch(Polygon([(1078, y + 4.5), (1078.5, y + 0.5), (1082, y + 4)], color="#222222", lw=0))
    over.plot([1083.5, 1085], [y - 1.5, y - 3], color="#222222", lw=0.9)
    over.plot([1079.5, 1081], [y + 3, y + 1.5], color="#222222", lw=0.9)

for x, y in [(57, 9.5), (91, 466), (248, 580)]:
    over.text(x, y, "▼", fontsize=5, color="#222222", ha="center", va="center", family="DejaVu Sans")
for x, y in [(131.5, 351.5), (105, 465.5), (262, 579.5)]:
    over.add_patch(Circle((x, y), 5.2, fill=False, ec="#3a78b8", lw=0.9))
    over.text(x, y, "?", fontsize=6, color="#3a78b8", ha="center", va="center")

y_labels = [
    (["0:00", "10:00", "20:00", "30:00"], [29, 50, 71, 92]),
    (["200", "150", "100", "50"], [143, 164, 185, 206]),
    (["2.00", "1.00", "0.00"], [257, 288, 320]),
    (["250", "200", "150", "100"], [371, 392, 413, 434]),
    (["15.0", "10.0", "5.0"], [485, 517, 548]),
    (["60 % izquierda", "50/50", "60 % derecha"], [599, 631, 662]),
    (["30.0", "20.0", "10.0", "0.0"], [713, 734, 755, 776]),
]
halo = [pe.withStroke(linewidth=1.4, foreground="white", alpha=0.45)]
for labels, ys in y_labels:
    for label, y in zip(labels, ys):
        over.text(21, y, label, fontsize=6.4, color=LABEL, va="center", ha="left", path_effects=halo)

# time labels under each panel
for bottom in [93, 207, 321, 435, 549, 663, 777]:
    for i, label in enumerate(time_labels):
        over.text(83 + 72.08 * i, bottom - 6, label, fontsize=6.4, color=LABEL, alpha=0.8,
                  va="center", ha="center", zorder=3)


def box(x0, y0, x1, y1, color="white", alpha=0.85, shadow=True, z=5):
    if shadow:
        over.add_patch(Rectangle((x0 + 1.5, y0 + 1.5), x1 - x0, y1 - y0, color="black", alpha=0.16, lw=0, zorder=z - 0.5))
    over.add_patch(Rectangle((x0, y0), x1 - x0, y1 - y0, color=color, alpha=alpha, lw=0, zorder=z))


def tip(x0, y0, x1, y1, label, size=7.2):
    box(x0, y0, x1, y1, z=7)
    over.text(x0 + 6, (y0 + y1) / 2, label, fontsize=size, color="#333333", va="center", ha="left", zorder=8)


def mean_label(label, y, rect=None, alpha=0.7):
    if rect:
        box(rect[0], y - 9, rect[1], y + 9, alpha=alpha, shadow=False)
    over.text(1068, y, label, fontsize=6.9, color="#333333", va="center", ha="right", zorder=6)


mean_label("Media: 5:49 min/km", 54, (975, 1072))
tip(926, 54, 996, 80, "5:16 min/km")
mean_label("Media: 129 ppm", 185.5, (993, 1072), 0.65)
tip(926, 168, 977, 194, "143 ppm")
mean_label("Media: 1.08 m", 298)
box(916, 259, 962, 281, color="#0e2b47", alpha=1, shadow=False, z=9)
over.text(939, 270, "1:45:38", fontsize=7.4, fontweight="bold", color="white", va="center", ha="center", zorder=10)
tip(926, 281, 968, 309, "1.13 m")
mean_label("Media: 154 ppm", 424)
tip(926, 396, 977, 424, "170 ppm")
mean_label("Media: 9.9 %", 530, (1012, 1070), 0.75)
tip(926, 510, 961, 537, "9.4 %")
mean_label("Media: 47.8 % izquierda / 52.2 % derecha", 650)
tip(926, 624, 1088, 650, "47.1 % izquierda / 52.9 % derecha", size=6.9)
tip(926, 737, 964, 764, "6.0 °C")
box(1006, 764, 1072, 778, color="#f0ede2", alpha=0.9, shadow=False)
mean_label("Media: 9.0 °C", 770)

fig.savefig("out.png", dpi=100)
